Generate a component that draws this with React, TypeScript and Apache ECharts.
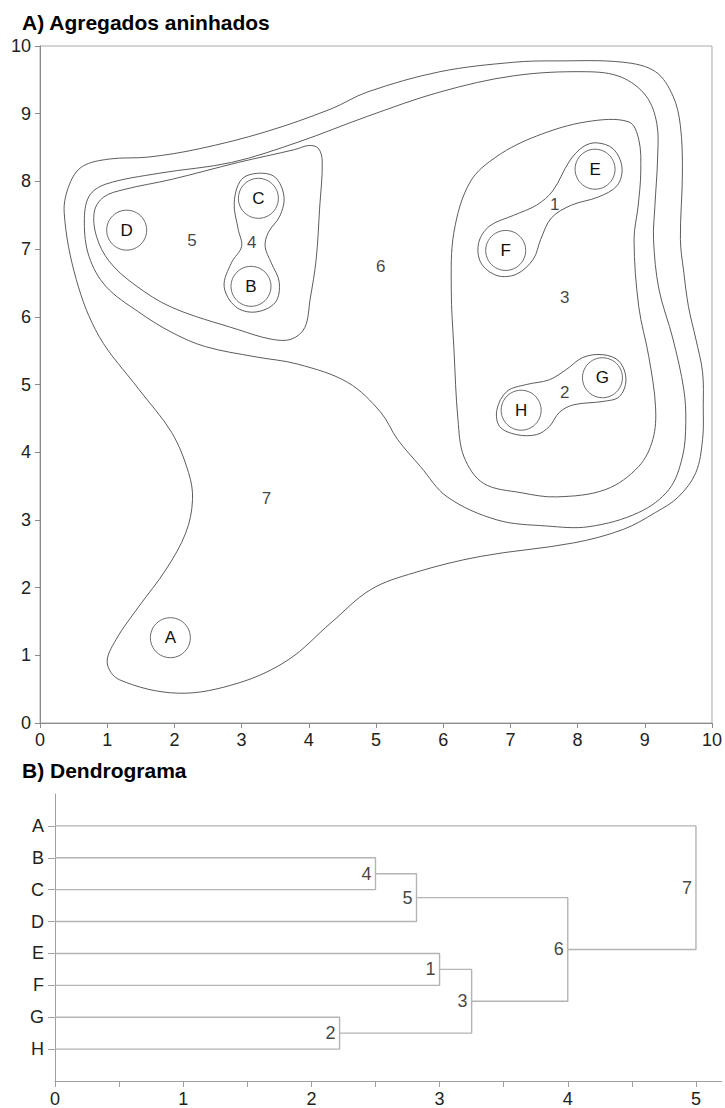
import React, { useEffect, useRef } from 'react';
import * as echarts from 'echarts';

// ---------- Panel A: nested aggregates ----------
const objectNames = ['A', 'B', 'C', 'D', 'E', 'F', 'G', 'H'];
const objectX = [1.94, 3.14, 3.25, 1.29, 8.26, 6.93, 8.37, 7.16];
const objectY = [1.26, 6.45, 7.75, 7.28, 8.18, 6.98, 5.1, 4.62];

const groupNames = ['1', '2', '3', '4', '5', '6', '7'];
const groupX = [7.66, 7.81, 7.81, 3.15, 2.26, 5.07, 3.37];
const groupY = [7.66, 4.88, 6.28, 7.1, 7.12, 6.75, 3.31];

const aggregate1 = [
  [8.28, 8.57], [8.53, 8.48], [8.66, 8.21], [8.59, 7.94], [8.31, 7.77], [7.91, 7.65],
  [7.61, 7.46], [7.45, 7.14], [7.34, 6.85], [7.09, 6.63], [6.8, 6.61], [6.56, 6.8],
  [6.53, 7.1], [6.69, 7.34], [7.05, 7.5], [7.39, 7.65], [7.63, 7.86], [7.88, 8.3], [8.08, 8.51],
];
const aggregate2 = [
  [8.38, 5.44], [8.62, 5.34], [8.72, 5.07], [8.62, 4.82], [8.38, 4.75], [7.94, 4.7],
  [7.73, 4.59], [7.58, 4.38], [7.39, 4.26], [7.09, 4.26], [6.84, 4.38], [6.8, 4.63],
  [6.95, 4.9], [7.24, 5.0], [7.58, 5.07], [7.83, 5.22], [8.08, 5.4],
];
const aggregate3 = [
  [7.39, 8.67], [8.13, 8.88], [8.76, 8.88], [8.91, 8.62], [8.94, 8.14], [8.9, 7.63],
  [8.84, 7.14], [8.91, 6.15], [9.06, 5.41], [9.16, 4.67], [9.12, 4.19], [8.91, 3.79],
  [8.42, 3.45], [7.69, 3.34], [7.17, 3.4], [6.6, 3.54], [6.31, 3.93], [6.22, 4.48],
  [6.16, 5.52], [6.12, 6.41], [6.16, 7.25], [6.4, 7.99], [6.8, 8.37],
];
const aggregate4 = [
  [3.25, 8.12], [3.5, 8.06], [3.63, 7.78], [3.57, 7.49], [3.4, 7.25], [3.35, 7.04],
  [3.44, 6.8], [3.56, 6.51], [3.5, 6.21], [3.2, 6.07], [2.91, 6.15], [2.74, 6.45],
  [2.85, 6.8], [3.0, 7.04], [2.95, 7.29], [2.89, 7.69], [3.0, 8.03],
];
const aggregate5 = [
  [0.81, 7.56], [0.95, 7.77], [1.25, 7.88], [1.96, 8.03], [2.95, 8.28], [3.79, 8.47],
  [4.0, 8.53], [4.14, 8.49], [4.2, 8.3], [4.16, 7.59], [4.11, 6.85], [4.02, 6.26],
  [3.94, 5.84], [3.74, 5.67], [3.44, 5.67], [2.95, 5.81], [1.96, 6.14], [1.4, 6.48],
  [1.03, 6.82], [0.84, 7.19],
];
const aggregate6 = [
  [0.73, 7.78], [0.98, 7.96], [1.77, 8.12], [2.85, 8.28], [3.84, 8.58], [4.87, 8.96],
  [5.95, 9.32], [7.05, 9.56], [8.13, 9.62], [8.65, 9.54], [9.02, 9.26], [9.18, 8.85],
  [9.19, 8.33], [9.15, 7.63], [9.13, 7.14], [9.21, 6.41], [9.42, 5.67], [9.58, 4.93],
  [9.61, 4.44], [9.56, 3.93], [9.36, 3.45], [8.91, 3.11], [8.17, 2.9], [7.54, 2.91],
  [6.8, 3.0], [6.06, 3.34], [5.66, 3.79], [5.32, 4.19], [5.07, 4.59], [4.58, 5.03],
  [3.84, 5.3], [3.2, 5.41], [2.46, 5.56], [1.96, 5.77], [1.47, 6.07], [0.98, 6.45],
  [0.73, 6.89], [0.66, 7.4],
];
const aggregate7 = [
  [0.63, 8.22], [1.03, 8.33], [1.62, 8.36], [2.36, 8.48], [3.35, 8.73], [4.33, 9.07],
  [4.87, 9.32], [5.95, 9.62], [7.05, 9.76], [7.69, 9.78], [8.68, 9.76], [9.16, 9.62],
  [9.42, 9.26], [9.53, 8.82], [9.56, 8.14], [9.53, 7.14], [9.58, 6.66], [9.65, 6.15],
  [9.76, 5.67], [9.86, 5.18], [9.87, 4.67], [9.86, 4.19], [9.76, 3.7], [9.5, 3.34],
  [9.16, 3.11], [8.68, 2.86], [7.94, 2.66], [6.55, 2.46], [5.57, 2.22], [4.92, 1.97],
  [4.33, 1.48], [3.69, 0.93], [2.95, 0.59], [2.06, 0.44], [1.18, 0.64], [1.0, 0.89],
  [1.13, 1.23], [1.47, 1.72], [1.87, 2.26], [2.17, 2.81], [2.27, 3.3], [2.21, 3.7],
  [1.96, 4.29], [1.47, 4.93], [0.88, 5.71], [0.54, 6.55], [0.36, 7.54], [0.44, 7.96],
];
const aggregates = [aggregate1, aggregate2, aggregate3, aggregate4, aggregate5, aggregate6, aggregate7];

const planeTicks = [0, 1, 2, 3, 4, 5, 6, 7, 8, 9, 10];

// ---------- Panel B: dendrogram ----------
const leaves = ['A', 'B', 'C', 'D', 'E', 'F', 'G', 'H'];
const mergeNames = ['1', '2', '3', '4', '5', '6', '7'];
const mergeLeft = ['E', 'G', '1', 'B', '4', '5', 'A'];
const mergeRight = ['F', 'H', '2', 'C', 'D', '3', '6'];
const mergeHeights = [3.0, 2.22, 3.25, 2.5, 2.82, 4.0, 5.0];
const distanceLabels = [0, 1, 2, 3, 4, 5];
const distanceTicks = [0, 0.5, 1, 1.5, 2, 2.5, 3, 3.5, 4, 4.5, 5];

const LABEL_FONT = "'Liberation Sans Narrow', 'Liberation Sans', Arial, sans-serif";
const TEXT_FONT = "'Liberation Sans', Arial, sans-serif";

function buildDendrogram() {
  const pos: Record<string, { h: number; y: number }> = {};
  leaves.forEach((name, i) => {
    pos[name] = { h: 0, y: leaves.length - i };
  });
  const links: number[][][] = [];
  const nodes: { name: string; value: number[] }[] = [];
  mergeNames.forEach((name, i) => {
    const a = pos[mergeLeft[i]];
    const b = pos[mergeRight[i]];
    const h = mergeHeights[i];
    links.push([[a.h, a.y], [h, a.y], [h, b.y], [b.h, b.y]]);
    const y = (a.y + b.y) / 2;
    pos[name] = { h, y };
    nodes.push({ name, value: [h, y] });
  });
  return { links, nodes };
}

export default function App() {
  const ref = useRef<HTMLDivElement>(null);

  useEffect(() => {
    if (!ref.current) return;
    const chart = echarts.init(ref.current, undefined, { renderer: 'svg' });
    const { links, nodes } = buildDendrogram();

    const contourSeries = aggregates.map((pts) => ({
      type: 'custom',
      coordinateSystem: 'cartesian2d',
      xAxisIndex: 0,
      yAxisIndex: 0,
      silent: true,
      z: 2,
      data: [pts[0]],
      renderItem: (_params: any, api: any) => ({
        type: 'polygon',
        shape: { points: pts.map((p) => api.coord(p)), smooth: 0.35 },
        style: { fill: 'none', stroke: '#4a4a4a', lineWidth: 0.9 },
      }),
    }));

    const linkSeries = links.map((path) => ({
      type: 'line',
      xAxisIndex: 1,
      yAxisIndex: 1,
      data: path,
      symbol: 'none',
      silent: true,
      lineStyle: { color: '#b4b4b4', width: 1.4 },
      z: 2,
    }));

    const tickLabel = {
      fontSize: 18,
      fontFamily: LABEL_FONT,
      color: '#222',
    };

    const option: any = {
      animation: false,
      backgroundColor: '#ffffff',
      title: [
        {
          text: 'A) Agregados aninhados',
          left: 22,
          top: 12,
          padding: 0,
          textStyle: { fontSize: 21, fontWeight: 'bold', fontFamily: TEXT_FONT, color: '#000' },
        },
        {
          text: 'B) Dendrograma',
          left: 22,
          top: 760,
          padding: 0,
          textStyle: { fontSize: 21, fontWeight: 'bold', fontFamily: TEXT_FONT, color: '#000' },
        },
      ],
      grid: [
        { left: 40, top: 46, width: 676, height: 677, show: true, borderColor: '#a8a8a8', borderWidth: 1, backgroundColor: 'transparent' },
        { left: 55, top: 794, width: 666.6, height: 288 },
      ],
      xAxis: [
        {
          gridIndex: 0,
          type: 'value',
          min: 0,
          max: 10,
          interval: 1,
          splitLine: { show: false },
          axisLine: { show: true, lineStyle: { color: '#8a8a8a', width: 1 } },
          axisTick: { show: true, length: 5, lineStyle: { color: '#8a8a8a' } },
          axisLabel: { customValues: planeTicks, margin: 8, ...tickLabel },
        },
        {
          gridIndex: 1,
          type: 'value',
          min: 0,
          max: 5.2,
          splitLine: { show: false },
          axisLine: { show: true, onZero: false, lineStyle: { color: '#a0a0a0', width: 1 } },
          axisTick: { show: true, length: 6, customValues: distanceTicks, lineStyle: { color: '#a0a0a0' } },
          axisLabel: { customValues: distanceLabels, margin: 9, ...tickLabel },
        },
      ],
      yAxis: [
        {
          gridIndex: 0,
          type: 'value',
          min: 0,
          max: 10,
          interval: 1,
          splitLine: { show: false },
          axisLine: { show: true, lineStyle: { color: '#8a8a8a', width: 1 } },
          axisTick: { show: true, length: 5, lineStyle: { color: '#8a8a8a' } },
          axisLabel: { customValues: planeTicks, margin: 9, ...tickLabel },
        },
        {
          gridIndex: 1,
          type: 'value',
          min: 0,
          max: 9,
          splitLine: { show: false },
          axisLine: { show: true, onZero: false, lineStyle: { color: '#a0a0a0', width: 1 } },
          axisTick: {
            show: true,
            length: 7,
            customValues: leaves.map((_, i) => leaves.length - i),
            lineStyle: { color: '#a0a0a0' },
          },
          axisLabel: {
            customValues: leaves.map((_, i) => leaves.length - i),
            formatter: (v: number) => leaves[leaves.length - v] ?? '',
            margin: 11,
            ...tickLabel,
          },
        },
      ],
      series: [
        ...contourSeries,
        {
          type: 'scatter',
          xAxisIndex: 0,
          yAxisIndex: 0,
          silent: true,
          z: 3,
          symbol: 'circle',
          symbolSize: 40,
          data: objectNames.map((n, i) => ({ name: n, value: [objectX[i], objectY[i]] })),
          itemStyle: { color: '#ffffff', borderColor: '#5a5a5a', borderWidth: 0.9, opacity: 1 },
          label: {
            show: true,
            position: 'inside',
            formatter: (p: any) => p.name,
            fontSize: 17,
            fontFamily: TEXT_FONT,
            color: '#111',
          },
        },
        {
          type: 'scatter',
          xAxisIndex: 0,
          yAxisIndex: 0,
          silent: true,
          z: 3,
          symbolSize: 0,
          data: groupNames.map((n, i) => ({ name: n, value: [groupX[i], groupY[i]] })),
          itemStyle: { color: 'transparent' },
          label: {
            show: true,
            position: 'inside',
            formatter: (p: any) => p.name,
            fontSize: 17,
            fontFamily: TEXT_FONT,
            color: '#111',
          },
        },
        ...linkSeries,
        {
          type: 'scatter',
          xAxisIndex: 1,
          yAxisIndex: 1,
          silent: true,
          z: 3,
          symbolSize: 0,
          data: nodes,
          itemStyle: { color: 'transparent' },
          label: {
            show: true,
            position: 'left',
            distance: 4,
            formatter: (p: any) => p.name,
            fontSize: 18,
            fontFamily: LABEL_FONT,
            color: '#111',
          },
        },
      ],
    };

    chart.setOption(option);
    return () => chart.dispose();
  }, []);

  return (
    <div
      ref={ref}
      style={{ position: 'fixed', left: 0, top: 0, width: 725, height: 1108, background: '#fff' }}
    />
  );
}
